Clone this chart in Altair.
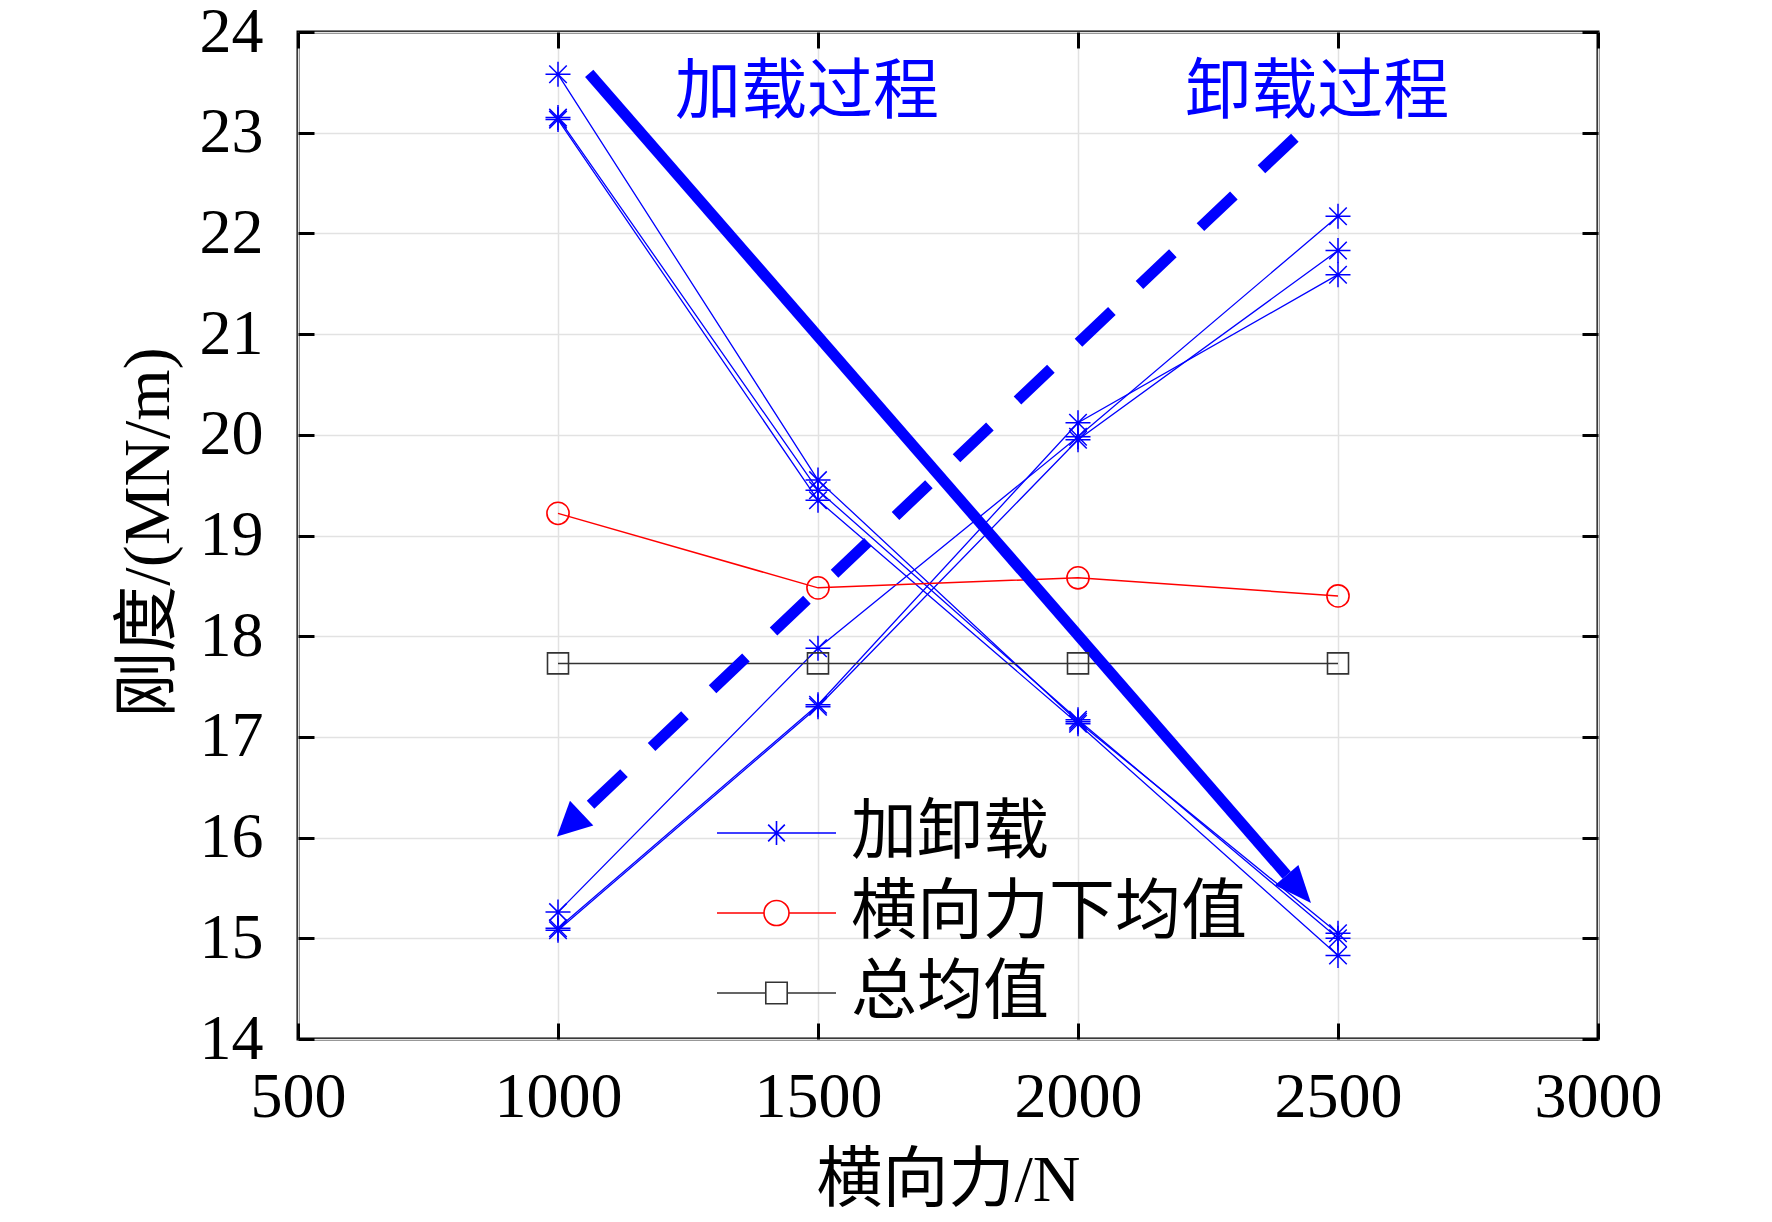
import math
import altair as alt
import pandas as pd

# ---------------- data ----------------
force = [1000, 1500, 2000, 2500]
load_run_1 = [23.58, 19.55, 17.15, 15.05]
load_run_2 = [23.15, 19.45, 17.17, 15.00]
load_run_3 = [23.13, 19.35, 17.13, 14.83]
unload_run_1 = [15.26, 17.88, 19.98, 22.17]
unload_run_2 = [15.10, 17.32, 20.12, 21.59]
unload_run_3 = [15.08, 17.30, 19.95, 21.83]
mean_by_force = [19.22, 18.48, 18.58, 18.40]
overall_mean = [17.73, 17.73, 17.73, 17.73]

series_names = ["加卸载", "横向力下均值", "总均值"]
series_colors = ["#0000ff", "#ff0000", "#333333"]

x_ticks = [500, 1000, 1500, 2000, 2500, 3000]
y_ticks = [14, 15, 16, 17, 18, 19, 20, 21, 22, 23, 24]

# annotation arrows (start, tip) in data units
solid_arrow_x = [1060, 2448]
solid_arrow_y = [23.59, 15.35]
dashed_arrow_x = [2417, 998]
dashed_arrow_y = [22.95, 16.01]

note_texts = ["加载过程", "卸载过程"]
note_x = [1479, 2460]
note_y = [23.39, 23.39]

# ---------------- layout / style ----------------
W, H = 1300, 1007
X_DOM = [500, 3000]
Y_DOM = [14, 24]
KX = W / (X_DOM[1] - X_DOM[0])
KY = H / (Y_DOM[1] - Y_DOM[0])
BLUE = "#0000ff"
SERIF = "Liberation Serif"
CJK = "Noto Sans CJK SC"
MIX = "Liberation Serif, Noto Sans CJK SC"

xs = alt.Scale(domain=X_DOM, nice=False, zero=False)
ys = alt.Scale(domain=Y_DOM, nice=False, zero=False)

STAR = "M-1,0L1,0M0,-1L0,1M-0.7,-0.7L0.7,0.7M-0.7,0.7L0.7,-0.7"
LEG_STAR = "M-1,0L1,0M0,-0.2L0,0.2M-0.14,-0.14L0.14,0.14M-0.14,0.14L0.14,-0.14"
LEG_CIRC = "M-1,0L-0.21,0M0.21,0L1,0M0.21,0A0.21,0.21,0,1,1,-0.21,0A0.21,0.21,0,1,1,0.21,0"
LEG_SQR = "M-1,0L-0.18,0M0.18,0L1,0M-0.18,-0.18L0.18,-0.18L0.18,0.18L-0.18,0.18Z"

# ---------------- tables ----------------
blue_rows = []
for name, run in [("l1", load_run_1), ("l2", load_run_2), ("l3", load_run_3),
                  ("u1", unload_run_1), ("u2", unload_run_2), ("u3", unload_run_3)]:
    for f, v in zip(force, run):
        blue_rows.append({"force": f, "value": v, "run": name, "series": series_names[0]})
blue_df = pd.DataFrame(blue_rows)
red_df = pd.DataFrame({"force": force, "value": mean_by_force, "series": series_names[1]})
black_df = pd.DataFrame({"force": force, "value": overall_mean, "series": series_names[2]})
all_df = pd.concat([blue_df, red_df, black_df], ignore_index=True)


def head_geom(ax, ay, head_len):
    dx = (ax[1] - ax[0]) * KX
    dy = -(ay[1] - ay[0]) * KY
    L = math.hypot(dx, dy)
    ux, uy = dx / L, dy / L
    bx = ax[1] - ux * head_len / KX
    by = ay[1] + uy * head_len / KY
    ang = math.degrees(math.atan2(dx, -dy)) % 360
    return bx, by, ang


s_bx, s_by, s_ang = head_geom(solid_arrow_x, solid_arrow_y, 37)
d_bx, d_by, d_ang = head_geom(dashed_arrow_x, dashed_arrow_y, 34)

solid_shaft = pd.DataFrame({"x": [solid_arrow_x[0]], "y": [solid_arrow_y[0]], "x2": [s_bx], "y2": [s_by]})
dashed_shaft = pd.DataFrame({"x": [dashed_arrow_x[0]], "y": [dashed_arrow_y[0]], "x2": [d_bx], "y2": [d_by]})
solid_tip = pd.DataFrame({"x": [solid_arrow_x[1]], "y": [solid_arrow_y[1]]})
dashed_tip = pd.DataFrame({"x": [dashed_arrow_x[1]], "y": [dashed_arrow_y[1]]})
notes_df = pd.DataFrame({"x": note_x, "y": note_y, "t": note_texts})

# ---------------- axes ----------------
x_main = alt.Axis(orient="bottom", values=x_ticks, format="d", grid=True, gridColor="#e2e2e2", gridWidth=1.5,
                  ticks=False, tickSize=0, domain=False, labelFont=SERIF, labelFontSize=64,
                  labelColor="black", labelPadding=26, labelFlush=False, labelOverlap=False,
                  title="横向力/N", titleFont=MIX, titleFontSize=66, titleFontWeight="normal",
                  titleColor="black", titleBaseline="middle", titleX=650, titleY=141)
y_main = alt.Axis(orient="left", values=y_ticks, format="d", grid=True, gridColor="#e2e2e2", gridWidth=1.5,
                  ticks=False, tickSize=0, domain=False, labelFont=SERIF, labelFontSize=64,
                  labelColor="black", labelPadding=35, labelFlush=False, labelOverlap=False,
                  title="刚度/(MN/m)", titleFont=MIX, titleFontSize=66, titleFontWeight="normal",
                  titleColor="black", titleBaseline="middle", titleAlign="center",
                  titleAngle=270, titleX=-150, titleY=500)


def frame_axis(orient, vals):
    return alt.Axis(orient=orient, values=vals, labels=False, ticks=True, tickSize=16, tickWidth=3,
                    tickColor="black", domain=False, grid=False, title=None, offset=-16, zindex=2)


def enc(chart, xa=None, ya=None, xf="force:Q", yf="value:Q"):
    return chart.encode(
        x=alt.X(xf, scale=xs, axis=xa),
        y=alt.Y(yf, scale=ys, axis=ya),
    )


blue_lines = alt.Chart(blue_df).mark_line(color=BLUE, strokeWidth=1.3).encode(
    x=alt.X("force:Q", scale=xs, axis=x_main),
    y=alt.Y("value:Q", scale=ys, axis=y_main),
    detail="run:N",
)
blue_pts = enc(alt.Chart(blue_df).mark_point(shape=STAR, size=625, filled=False, color=BLUE,
                                             strokeWidth=1.5, opacity=1))
red_line = enc(alt.Chart(red_df).mark_line(color="#ff0000", strokeWidth=1.5))
red_pts = enc(alt.Chart(red_df).mark_point(shape="circle", size=491, filled=False, color="#ff0000",
                                           strokeWidth=1.6, opacity=1))
black_line = enc(alt.Chart(black_df).mark_line(color="#333333", strokeWidth=1.5))
black_pts = enc(alt.Chart(black_df).mark_point(shape="square", size=441, filled=False, color="#333333",
                                               strokeWidth=1.6, opacity=1))

solid_rule = alt.Chart(solid_shaft).mark_rule(color=BLUE, strokeWidth=11, strokeCap="butt").encode(
    x=alt.X("x:Q", scale=xs, axis=None), y=alt.Y("y:Q", scale=ys, axis=None), x2="x2:Q", y2="y2:Q")
dashed_rule = alt.Chart(dashed_shaft).mark_rule(color=BLUE, strokeWidth=11, strokeCap="butt",
                                                strokeDash=[46, 38]).encode(
    x=alt.X("x:Q", scale=xs, axis=None), y=alt.Y("y:Q", scale=ys, axis=None), x2="x2:Q", y2="y2:Q")
solid_head = enc(alt.Chart(solid_tip).mark_point(shape="M0,0L-0.42,1L0.42,1Z", size=74 ** 2, angle=s_ang,
                                                 filled=True, color=BLUE, opacity=1, strokeWidth=0),
                 xf="x:Q", yf="y:Q")
dashed_head = enc(alt.Chart(dashed_tip).mark_point(shape="M0,0L-0.5,1L0.5,1Z", size=68 ** 2, angle=d_ang,
                                                   filled=True, color=BLUE, opacity=1, strokeWidth=0),
                  xf="x:Q", yf="y:Q")

notes = alt.Chart(notes_df).mark_text(font=CJK, fontSize=66, color=BLUE, align="center",
                                      baseline="middle").encode(
    x=alt.X("x:Q", scale=xs, axis=None), y=alt.Y("y:Q", scale=ys, axis=None), text="t:N")

leg = alt.Legend(title=None, orient="none", legendX=418, legendY=763, padding=0,
                 labelFont=CJK, labelFontSize=66, labelColor="black", labelLimit=600, labelOffset=14,
                 symbolSize=119 ** 2, symbolStrokeWidth=1.6, symbolOpacity=1,
                 symbolFillColor="transparent", clipHeight=76, rowPadding=4)
legend_layer = alt.Chart(all_df).mark_point(filled=False, opacity=0).encode(
    x=alt.X("force:Q", scale=xs, axis=None),
    y=alt.Y("value:Q", scale=ys, axis=None),
    color=alt.Color("series:N", scale=alt.Scale(domain=series_names, range=series_colors), legend=leg),
    shape=alt.Shape("series:N", scale=alt.Scale(domain=series_names, range=[LEG_STAR, LEG_CIRC, LEG_SQR]),
                    legend=leg),
)

frame_tr = enc(alt.Chart(black_df).mark_point(opacity=0), xa=frame_axis("top", x_ticks),
               ya=frame_axis("right", y_ticks))
frame_bl = enc(alt.Chart(black_df).mark_point(opacity=0), xa=frame_axis("bottom", x_ticks),
               ya=frame_axis("left", y_ticks))

chart = alt.layer(
    blue_lines, red_line, black_line,
    solid_rule, dashed_rule, solid_head, dashed_head,
    blue_pts, red_pts, black_pts,
    notes, legend_layer, frame_tr, frame_bl,
).resolve_axis(x="independent", y="independent").properties(
    width=W, height=H,
    autosize=alt.AutoSizeParams(type="none"),
    padding={"left": 290, "top": 24, "right": 166, "bottom": 175},
    background="white",
).configure_view(stroke="black", strokeWidth=3)

chart.save("out.html", embed_options={"renderer": "svg", "actions": False})
